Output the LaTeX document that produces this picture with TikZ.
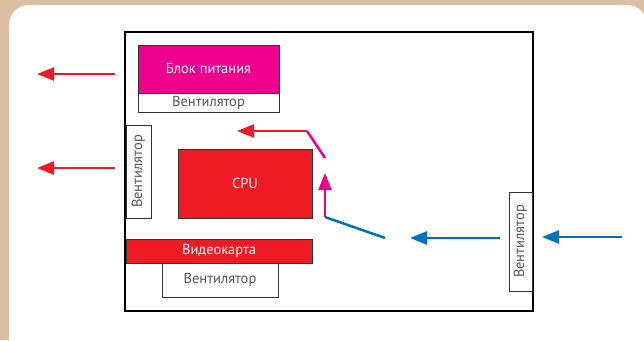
\documentclass[tikz,border=0pt]{standalone}
\usepackage{fontspec}
\setmainfont{PT Sans}
\usetikzlibrary{arrows.meta,positioning}
\definecolor{Tan}{HTML}{DCBFA3}
\definecolor{Hot}{HTML}{EC008C}
\definecolor{Fire}{HTML}{ED1C24}
\definecolor{Sky}{HTML}{0072BC}
\definecolor{Ink}{HTML}{555555}
\definecolor{Edge}{HTML}{333333}

\begin{document}
\begin{tikzpicture}[x=1pt,y=-1pt,
  part/.style={draw=Edge,line width=0.8pt,inner sep=0pt,font=\fontsize{14.5}{16}\selectfont},
  fan/.style={part,fill=white,text=Ink},
  chip/.style={part,text=white},
  hotarrow/.style={-{Triangle[length=17pt,width=13pt]},line width=2.5pt,draw=Fire},
  pinkarrow/.style={-{Triangle[length=17pt,width=13pt]},line width=2.5pt,draw=Hot},
  coolarrow/.style={-{Triangle[length=17pt,width=13pt]},line width=2.5pt,draw=Sky}
]
\useasboundingbox (0,0) rectangle (644,340);
\clip (0,0) rectangle (644,340);
\fill[Tan] (0,0) rectangle (644,340);
\fill[white,rounded corners=20pt] (9,5) rectangle (647,370);

% case and parts
\node[draw=black,line width=1.2pt,minimum width=408,minimum height=279,inner sep=0pt] (case) at (329,171.5) {};
\node[chip,fill=Hot,minimum width=141,minimum height=48] (psu) at (208.5,69) {Блок питания};
\node[fan,minimum width=141,minimum height=19,below=0pt of psu] (psufan) {Вентилятор};
\node[fan,rotate=90,minimum width=93,minimum height=25] (rearfan) at (138.5,171.5) {Вентилятор};
\node[chip,fill=Fire,minimum width=134,minimum height=69] (cpu) at (245,183.5) {CPU};
\node[chip,fill=Fire,minimum width=186,minimum height=24] (gpu) at (219,251) {Видеокарта};
\node[fan,minimum width=116,minimum height=34] (gpufan) at (220,280) {Вентилятор};
\node[fan,rotate=90,minimum width=99,minimum height=23] (frontfan) at (520.5,241.5) {Вентилятор};

% air flow
\coordinate (psuin) at (115,74);
\coordinate (psuout) at (37,74);
\coordinate (rearin) at (115,168);
\coordinate (rearout) at (37,168);
\coordinate (bendlow) at (325,158);
\coordinate (bendtop) at (307,131);
\coordinate (warmtip) at (237,131);
\coordinate (risebase) at (325,217);
\coordinate (risetip) at (325,173);
\coordinate (inflow) at (385,238);
\coordinate (midend) at (500,238);
\coordinate (midtip) at (410,238);
\coordinate (outside) at (622,237);
\coordinate (fronttip) at (542,237);

\draw[hotarrow] (psuin) -- (psuout);
\draw[hotarrow] (rearin) -- (rearout);
\draw[line width=2.5pt,draw=Hot] (bendlow) -- (bendtop);
\draw[hotarrow] (bendtop) -- (warmtip);
\draw[pinkarrow] (risebase) -- (risetip);
\draw[line width=2.5pt,draw=Sky] (inflow) -- (risebase);
\draw[coolarrow] (midend) -- (midtip);
\draw[coolarrow] (outside) -- (fronttip);
\end{tikzpicture}
\end{document}
